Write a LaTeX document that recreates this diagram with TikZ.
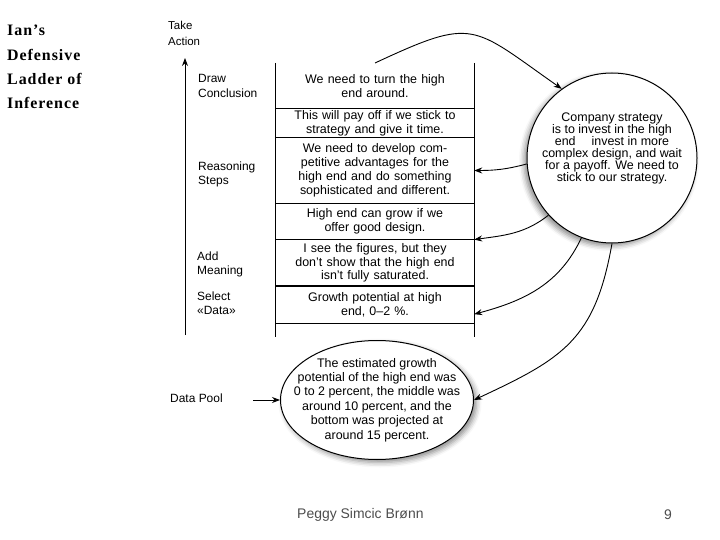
\documentclass[tikz,border=0pt]{standalone}
\usepackage{fontspec}
\setmainfont{Liberation Sans}
\newfontfamily\titlefont[LetterSpace=6]{Liberation Serif}
\usetikzlibrary{positioning,arrows.meta,shapes.geometric,shadows.blur}

\newcommand\rungfont{\fontsize{12.5}{14}\selectfont}
\newcommand\labfont{\fontsize{12}{14.3}\selectfont}

\tikzset{
	rung/.style={text width=190bp, inner xsep=4bp, inner ysep=0pt, align=center, font=\rungfont},
	steplabel/.style={anchor=west, align=left, inner sep=0pt, font=\labfont},
	pushback/.style={-{Stealth[length=8bp, width=6bp]}, line width=0.9bp},
}

\begin{document}
\begin{tikzpicture}[x=1bp, y=1bp]
	\useasboundingbox (0,0) rectangle (720,-540);
	\node[anchor=north west, align=left, inner sep=0pt, font=\titlefont\bfseries\fontsize{16}{24.3}\selectfont] (title) at (7,-25) {Ian’s\\Defensive\\Ladder of\\Inference};

	% the ladder
	\node[rung, anchor=north, minimum height=45bp] (row1) at (375,-63) {We need to turn the high\\end around.};
	\node[rung, minimum height=29bp, below=0pt of row1] (row2) {This will pay off if we stick to\\strategy and give it time.};
	\node[rung, minimum height=65bp, below=0pt of row2] (row3) {We need to develop com-\\petitive advantages for the\\high end and do something\\sophisticated and different.};
	\node[rung, minimum height=36bp, below=0pt of row3] (row4) {High end can grow if we\\offer good design.};
	\node[rung, minimum height=46bp, below=0pt of row4] (row5) {I see the figures, but they\\don't show that the high end\\isn't fully saturated.};
	\node[rung, minimum height=37bp, below=0pt of row5] (row6) {Growth potential at high\\end, 0–2 \%.};

	\draw[line width=1.1bp] (row1.north west) -- ([yshift=-14bp]row6.south west);
	\draw[line width=1.1bp] (row1.north east) -- ([yshift=-14bp]row6.south east);
	\draw[line width=1.1bp] (row1.south west) -- (row1.south east);
	\draw[line width=1.1bp] (row2.south west) -- (row2.south east);
	\draw[line width=1.1bp] (row3.south west) -- (row3.south east);
	\draw[line width=1.1bp] (row4.south west) -- (row4.south east);
	\draw[line width=1.1bp] (row5.south west) -- (row5.south east);
	\draw[line width=1.1bp] (row6.south west) -- (row6.south east);

	% rungs named on the left
	\coordinate (ladbot) at (185,-335);
	\coordinate (ladtop) at (185,-58);
	\draw[pushback] (ladbot) -- (ladtop);
	\node[steplabel, font=\fontsize{11.5}{16.5}\selectfont] (act) at (168,-33.5) {Take\\Action};
	\node[steplabel] (concl) at (198,-86) {Draw\\Conclusion};
	\node[steplabel] (reason) at (198,-174.5) {Reasoning\\Steps};
	\node[steplabel] (meaning) at (197,-264.5) {Add\\Meaning};
	\node[steplabel] (select) at (197,-303.5) {Select\\«Data»};
	\node[steplabel] (poollab) at (170,-398) {Data Pool};

	% data pool and belief
	\node[ellipse, draw, fill=white, line width=1bp, minimum width=193bp, minimum height=119bp, inner sep=0pt,
		blur shadow={shadow xshift=3bp, shadow yshift=-3bp, shadow blur radius=5bp, shadow opacity=45},
		label={[align=center, font=\fontsize{12.5}{14.5}\selectfont]center:{The estimated growth\\potential of the high end was\\0 to 2 percent, the middle was\\around 10 percent, and the\\bottom was projected at\\around 15 percent.}}] (pool) at (377,-400) {};
	\node[circle, draw, fill=white, line width=1bp, minimum size=170bp, inner sep=0pt,
		blur shadow={shadow xshift=-3bp, shadow yshift=-3bp, shadow blur radius=5bp, shadow opacity=45},
		label={[align=center, font=\fontsize{12.5}{12.2}\selectfont, yshift=9.5bp]center:{Company strategy\\is to invest in the high\\end\hspace{16bp}invest in more\\complex design, and wait\\for a payoff. We need to\\stick to our strategy.}}] (strategy) at (612,-158) {};

	\coordinate (poolin) at (253,-400);
	\draw[pushback] (poolin) -- (pool.west);
	\draw[pushback] (row1.north) to[out=25, in=145, looseness=1.5] (strategy.126);
	\draw[pushback] (strategy.184) to[out=195, in=0] (row3.east);
	\draw[pushback] (strategy.222) to[out=218, in=8] (row4.south east);
	\draw[pushback] (strategy.249) to[out=245, in=15] ([yshift=-9.5bp]row6.east);
	\draw[pushback] (strategy.south) to[out=260, in=25, looseness=1.2] (pool.east);

	% footer
	\node[anchor=west, inner sep=0pt, text=black!70, font=\fontsize{14}{16}\selectfont] (author) at (297,-515) {Peggy Simcic Brønn};
	\node[inner sep=0pt, text=black!70, font=\fontsize{14}{16}\selectfont] (page) at (668,-515) {9};
\end{tikzpicture}
\end{document}
